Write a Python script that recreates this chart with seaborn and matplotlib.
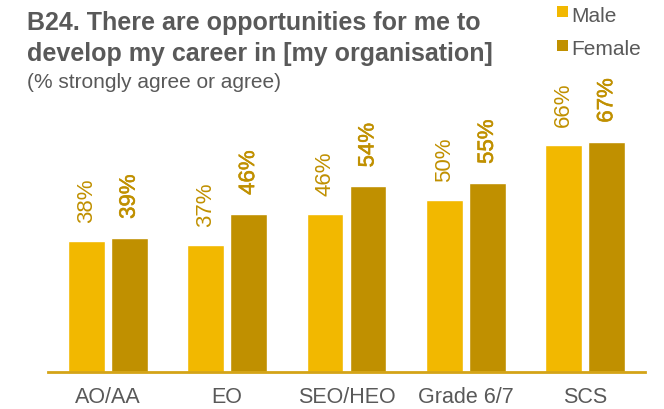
import matplotlib
matplotlib.use("Agg")
import matplotlib.pyplot as plt
import matplotlib.patheffects as pe
import seaborn as sns
import pandas as pd

grades = ["AO/AA", "EO", "SEO/HEO", "Grade 6/7", "SCS"]
male = [38, 37, 46, 50, 66]
female = [39, 46, 54, 55, 67]
series = ["Male", "Female"]

MALE_C = "#F2B800"
FEMALE_C = "#C09000"
LABEL_C = "#C09000"
TEXT_C = "#595959"

df = pd.DataFrame({
    "grade": grades * 2,
    "pct": male + female,
    "sex": ["Male"] * len(grades) + ["Female"] * len(grades),
})

sns.set_theme(style="white")
plt.rcParams["font.family"] = ["Liberation Sans", "DejaVu Sans"]

W, H = 664, 410
fig = plt.figure(figsize=(W / 100, H / 100), dpi=100)
ax = fig.add_axes([48 / W, 37 / H, 597 / W, 275 / H])

sns.barplot(data=df, x="grade", y="pct", hue="sex", order=grades,
            hue_order=series, palette=[MALE_C, FEMALE_C],
            width=0.72, gap=0.14, ax=ax, legend=False, errorbar=None,
            saturation=1)

ax.set_xlim(-0.5, 4.5)
ax.set_ylim(0, 80)
ax.set_xlabel("")
ax.set_ylabel("")
ax.set_yticks([])
for s in ["top", "right", "left"]:
    ax.spines[s].set_visible(False)
ax.spines["bottom"].set_color("#D4A417")
ax.spines["bottom"].set_linewidth(2)
ax.tick_params(axis="x", length=0, pad=10, labelsize=15.5, labelcolor=TEXT_C)

# value labels above each bar; female values drawn slightly heavier
heavy = [pe.withStroke(linewidth=0.4, foreground=LABEL_C)]
for container, thick in zip(ax.containers, [False, True]):
    for bar in container:
        h = bar.get_height()
        ax.annotate(f"{h:.0f}%", (bar.get_x() + bar.get_width() / 2, h),
                    xytext=(0, 19), textcoords="offset pixels",
                    ha="center", va="bottom", rotation=90,
                    fontsize=16, color=LABEL_C,
                    path_effects=heavy if thick else None,
                    annotation_clip=False)

# title block
fig.text(27 / W, 1 - 30 / H, "B24. There are opportunities for me to",
         ha="left", va="baseline", fontsize=18, fontweight="bold", color=TEXT_C)
fig.text(27 / W, 1 - 61 / H, "develop my career in [my organisation]",
         ha="left", va="baseline", fontsize=18, fontweight="bold", color=TEXT_C)
fig.text(27 / W, 1 - 88 / H, "(% strongly agree or agree)",
         ha="left", va="baseline", fontsize=15, color=TEXT_C)

# legend
for name, c, sq_top, base in zip(series, [MALE_C, FEMALE_C], [7, 41], [22, 55]):
    fig.patches.append(plt.Rectangle((557 / W, 1 - (sq_top + 11) / H), 11 / W, 11 / H,
                                     transform=fig.transFigure, color=c, lw=0))
    fig.text(571 / W, 1 - base / H, name, ha="left", va="baseline",
             fontsize=15, color=TEXT_C)

fig.savefig("out.png", dpi=100)
